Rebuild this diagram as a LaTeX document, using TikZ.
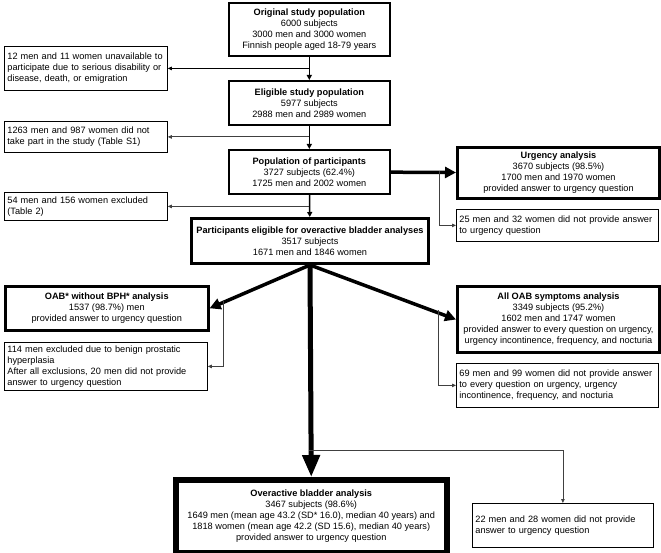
\documentclass[tikz,border=0pt]{standalone}
\usepackage{fontspec}
\setmainfont{Liberation Sans}
\usetikzlibrary{arrows.meta}

\tikzset{
  stagebox/.style={draw, line width=1.6pt, align=center, inner sep=0pt, anchor=north west, font=\fontsize{9.2}{11}\selectfont},
  keybox/.style={stagebox, line width=3pt},
  finalbox/.style={stagebox, line width=5.5pt},
  notebox/.style={draw, black, line width=0.8pt, align=left, inner xsep=3pt, inner ysep=0pt, anchor=north west, font=\fontsize{9.2}{11}\selectfont},
  flow/.style={line width=1.5pt, -{Triangle[length=5pt,width=5pt]}},
  sideflow/.style={line width=0.8pt, black!75, -{Triangle[length=4pt,width=3.5pt]}},
  bigflow/.style={line width=3.5pt, -{Triangle[length=11pt,width=11pt]}},
}

\begin{document}
\begin{tikzpicture}[x=1pt, y=-1pt]
  \useasboundingbox (0,0) rectangle (661,553);

  % main column
  \node[stagebox, minimum width=161pt, minimum height=53pt] (orig) at (228,2)
    {\textbf{Original study population}\\6000 subjects\\3000 men and 3000 women\\Finnish people aged 18-79 years};
  \node[stagebox, minimum width=161pt, minimum height=44pt] (elig) at (228,80)
    {\textbf{Eligible study population}\\5977 subjects\\2988 men and 2989 women};
  \node[stagebox, minimum width=161pt, minimum height=44pt] (pop) at (228,149)
    {\textbf{Population of participants}\\3727 subjects (62.4\%)\\1725 men and 2002 women};
  \node[keybox, minimum width=237pt, minimum height=45pt] (part) at (190,217)
    {\textbf{Participants eligible for overactive bladder analyses}\\3517 subjects\\1671 men and 1846 women};
  \node[finalbox, minimum width=271pt, minimum height=73pt] (final) at (173,477)
    {\textbf{Overactive bladder analysis}\\3467 subjects (98.6\%)\\1649 men (mean age 43.2 (SD* 16.0), median 40 years) and\\1818 women (mean age 42.2 (SD 15.6), median 40 years)\\provided answer to urgency question};

  % exclusions on the left
  \node[notebox, text width=157pt, minimum height=44pt] (excl1) at (4,46)
    {12 men and 11 women unavailable to\\participate due to serious disability or\\disease, death, or emigration};
  \node[notebox, text width=157pt, minimum height=31pt] (excl2) at (4,121)
    {1263 men and 987 women did not\\take part in the study (Table S1)};
  \node[notebox, text width=157pt, minimum height=28pt] (excl3) at (4,192)
    {54 men and 156 women excluded\\(Table 2)};

  % side analyses
  \node[keybox, minimum width=202pt, minimum height=51pt] (urg) at (456,146)
    {\textbf{Urgency analysis}\\3670 subjects (98.5\%)\\1700 men and 1970 women\\provided answer to urgency question};
  \node[notebox, text width=196pt, minimum height=32pt] (nourg) at (456,209)
    {25 men and 32 women did not provide answer\\to urgency question};
  \node[keybox, line width=2.6pt, minimum width=203pt, minimum height=44pt] (oab) at (4,285)
    {\textbf{OAB* without BPH* analysis}\\1537 (98.7\%) men\\provided answer to urgency question};
  \node[notebox, text width=197pt, minimum height=48pt] (excl114) at (4,342)
    {114 men excluded due to benign prostatic\\hyperplasia\\After all exclusions, 20 men did not provide\\answer to urgency question};
  \node[keybox, minimum width=202pt, minimum height=66pt] (allsym) at (456,285)
    {\textbf{All OAB symptoms analysis}\\3349 subjects (95.2\%)\\1602 men and 1747 women\\provided answer to every question on urgency,\\urgency incontinence, frequency, and nocturia};
  \node[notebox, text width=196pt, minimum height=44pt] (noall) at (456,363)
    {69 men and 99 women did not provide answer\\to every question on urgency, urgency\\incontinence, frequency, and nocturia};
  \node[notebox, text width=175pt, minimum height=44pt] (nofinal) at (472,503)
    {22 men and 28 women did not provide\\answer to urgency question};

  % branch points
  \coordinate (forkL) at (223,300);
  \coordinate (forkR) at (438,310);
  \coordinate (forkU) at (439,171);
  \coordinate (forkF) at (308.5,450);

  % connectors
  \draw[flow] (orig) -- (elig);
  \draw[flow] (elig) -- (pop);
  \draw[flow] (pop) -- (part);
  \draw[sideflow, black] (orig.south |- excl1.east) -- (excl1.east);
  \draw[sideflow] (elig.south |- excl2.east) -- (excl2.east);
  \draw[sideflow] (pop.south |- excl3.east) -- (excl3.east);
  \draw[bigflow] (pop) -- (urg);
  \draw[sideflow] (forkU) |- (nourg.west);
  \draw[bigflow] (part.south) -- (oab.east);
  \draw[bigflow] (part.south) -- (allsym.west);
  \draw[sideflow] (forkL) |- (excl114.east);
  \draw[sideflow] (forkR) |- (noall.west);
  \draw[line width=5pt, -{Triangle[length=22pt,width=17pt]}] (part.south) -- (final.north);
  \draw[sideflow] (forkF) -| (nofinal.north);
\end{tikzpicture}
\end{document}
